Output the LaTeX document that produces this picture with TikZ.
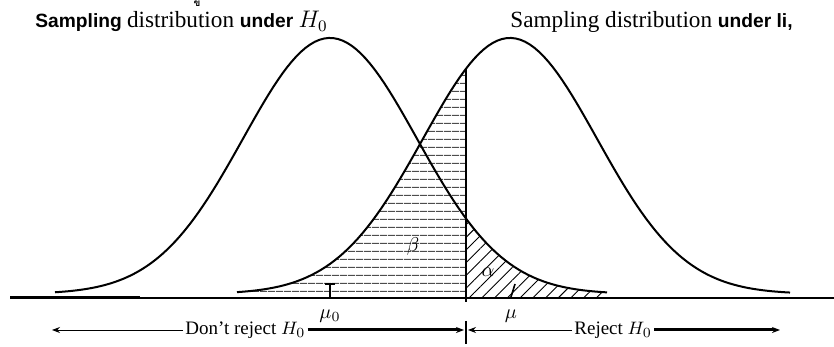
\documentclass[tikz,border=0pt]{standalone}
\usepackage{fontspec}
\setmainfont{Liberation Serif}
\newfontfamily\labelsans{Liberation Sans}
\newfontfamily\thaifont[Script=Thai]{Loma}
\usetikzlibrary{arrows.meta,patterns.meta}

\newcommand\sansbold{\labelsans\bfseries\fontsize{9.6}{11}\selectfont}
\newcommand\tserif{\rmfamily\mdseries\fontsize{11.6}{14}\selectfont}

\tikzset{
  curve/.style={line width=1pt},
  axis/.style={line width=0.8pt},
  thinarrow/.style={line width=0.4pt, -{Stealth[length=4pt,width=3pt]}},
  thickarrow/.style={line width=1.5pt, -{Stealth[length=4pt,width=3pt]}},
  betafill/.style={pattern={Lines[angle=0,distance=4pt,line width=0.5pt]}, pattern color=black!70},
  alphafill/.style={pattern={Lines[angle=45,distance=4.5pt,line width=0.45pt]}},
  rowlabel/.style={inner sep=1pt, font=\fontsize{9.5}{11}\selectfont}
}

\begin{document}
\begin{tikzpicture}[x=0.5pt, y=0.5pt,
  declare function={
    hzero(\x)=4+256*exp(-0.5*((\x-330)/87)^2);
    hone(\x)=4+256*exp(-0.5*((\x-510)/87)^2);
  }]
  \useasboundingbox (0,-49) rectangle (834,298);

  %% =========================================================
  %% SHADED AREAS — beta under H1 left of the cut,
  %% alpha under H0 right of the cut (cut at x = 466)
  %% =========================================================
  \fill[betafill] (237,0) -- plot[domain=237:466, samples=60] (\x,{hone(\x)}) -- (466,0) -- cycle;
  \fill[alphafill] (466,0) -- plot[domain=466:607, samples=40] (\x,{hzero(\x)}) -- (607,0) -- cycle;

  %% AXIS
  \draw[axis] (10,0) -- (834,0);
  \draw[line width=1.5pt] (10,0) -- (140,0);

  %% CURVES
  \draw[curve] plot[domain=55:607, samples=120] (\x,{hzero(\x)});
  \draw[curve] plot[domain=237:790, samples=120] (\x,{hone(\x)});

  %% CRITICAL VALUE
  \coordinate (cuttop) at (466,{hone(466)});
  \coordinate (cutbot) at (466,-4);
  \draw[line width=1pt] (cutbot) -- (cuttop);

  %% MEAN TICKS
  \draw[line width=0.8pt] (330,0) -- (330,14);
  \draw[line width=0.6pt] (325,14) -- (335,14);
  \draw[line width=0.8pt] (511,1) -- (515,14);

  \node (muzero) at (330,-18) {$\mu_0$};
  \node (muone) at (511,-18) {$\mu$};
  \node (beta) at (413,51) {$\beta$};
  \node (alpha) at (488,26) {$\alpha$};

  %% TITLES
  \node[anchor=base west, inner sep=0] (titlezero) at (35,270)
    {\sansbold Sampling \tserif distribution \sansbold under \tserif$H_0$};
  \node[anchor=base west, inner sep=0] (titleone) at (510,270)
    {\tserif Sampling distribution \sansbold under li,};
  \node[anchor=north, inner sep=0, font=\thaifont\bfseries\fontsize{5}{5}\selectfont] (mark) at (197,298) {ข};

  %% =========================================================
  %% DECISION ROW — y = -32
  %% =========================================================
  \node[rowlabel, anchor=west] (keep) at (183,-32) {Don't reject $H_0$};
  \node[rowlabel, anchor=west] (reject) at (572,-32) {Reject $H_0$};

  \coordinate (keepend) at (52,-32);
  \coordinate (cutleft) at (464,-32);
  \coordinate (cutright) at (468,-32);
  \coordinate (rejectend) at (780,-32);
  \coordinate (cutup) at (466,-23);
  \coordinate (cutdown) at (466,-46);

  \draw[thinarrow] (keep.west) -- (keepend);
  \draw[thickarrow] (keep.east) -- (cutleft);
  \draw[thinarrow] (reject.west) -- (cutright);
  \draw[thickarrow] (reject.east) -- (rejectend);
  \draw[line width=0.8pt] (cutup) -- (cutdown);

\end{tikzpicture}
\end{document}
